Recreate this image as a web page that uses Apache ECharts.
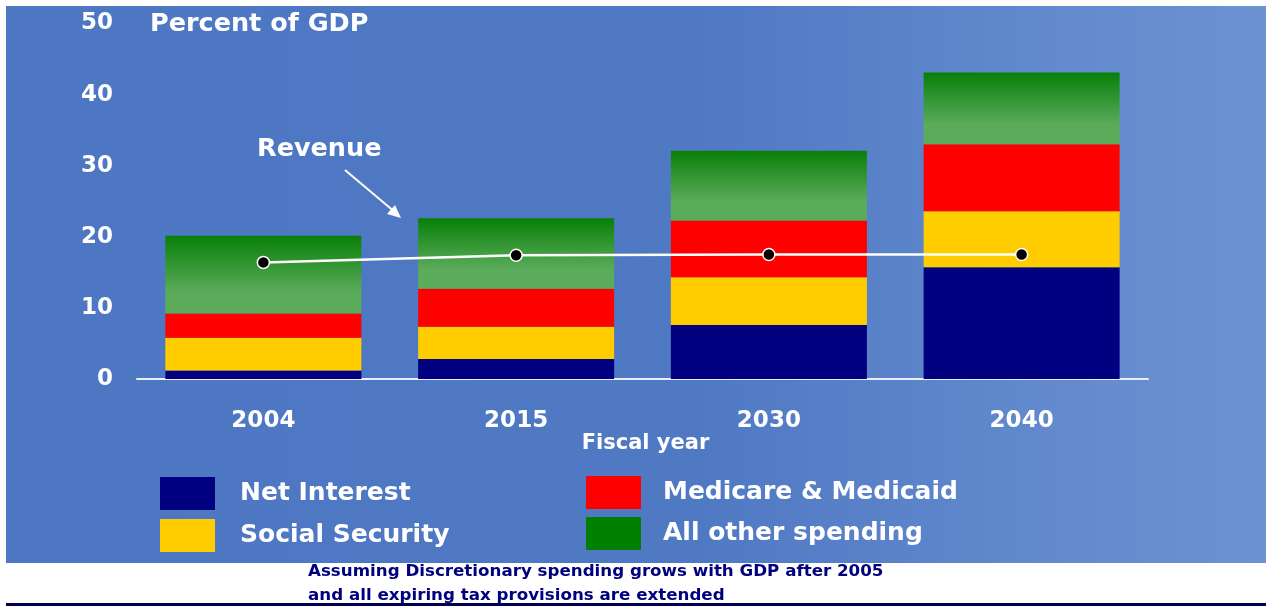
<!DOCTYPE html>
<html>
<head>
<meta charset="utf-8">
<script src="https://cdn.jsdelivr.net/npm/echarts@6/dist/echarts.min.js"></script>
<style>
  html, body { margin: 0; padding: 0; background: #ffffff; }
  #chart { width: 1266px; height: 606px; }
</style>
</head>
<body>
<div id="chart"></div>
<script>
// ---- data ----
const categories = ['2004', '2015', '2030', '2040'];
const yTicks = [0, 10, 20, 30, 40, 50];
const netInterest = [1.2, 2.8, 7.6, 15.7];
const socialSecurity = [4.6, 4.55, 6.7, 7.9];
const medicare = [3.4, 5.35, 8.0, 9.4];
const allOther = [10.95, 9.9, 9.8, 10.1];
const revenue = [16.4, 17.4, 17.5, 17.5];
const seriesNames = ['Net Interest', 'Social Security', 'Medicare & Medicaid', 'All other spending'];

const FONT = '"DejaVu Sans", Verdana, sans-serif';
const chart = echarts.init(document.getElementById('chart'), null, { renderer: 'canvas' });

const greenGrad = new echarts.graphic.LinearGradient(0, 0, 0, 1, [
  { offset: 0, color: '#087f08' },
  { offset: 0.72, color: '#5aab5a' },
  { offset: 1, color: '#5aab5a' }
]);

const legendText = { color: '#ffffff', fontFamily: FONT, fontWeight: 'bold', fontSize: 25, lineHeight: 33 };

const option = {
  backgroundColor: '#ffffff',
  animation: false,
  grid: { left: 137, right: 118, top: 23.5, bottom: 227, containLabel: false },
  xAxis: {
    type: 'category',
    data: categories,
    name: 'Fiscal year',
    nameLocation: 'middle',
    nameGap: 54,
    nameMoveOverlap: false,
    nameTextStyle: { color: '#ffffff', fontFamily: FONT, fontWeight: 'bold', fontSize: 21, padding: [0, 0, 0, 6] },
    axisLine: { show: true, lineStyle: { color: '#e8eefa', width: 2 } },
    axisTick: { show: false },
    axisLabel: { color: '#ffffff', fontFamily: FONT, fontWeight: 'bold', fontSize: 23, margin: 31 },
    splitLine: { show: false }
  },
  yAxis: {
    type: 'value',
    min: yTicks[0],
    max: yTicks[yTicks.length - 1],
    interval: 10,
    axisLine: { show: false },
    axisTick: { show: false },
    splitLine: { show: false },
    axisLabel: { color: '#ffffff', fontFamily: FONT, fontWeight: 'bold', fontSize: 23, margin: 24 }
  },
  legend: [
    {
      left: 160, top: 477, orient: 'vertical', itemWidth: 55, itemHeight: 33, itemGap: 9, padding: 0,
      icon: 'rect',
      data: [
        { name: seriesNames[0], itemStyle: { color: '#000080' } },
        { name: seriesNames[1], itemStyle: { color: '#ffcc00' } }
      ],
      textStyle: Object.assign({ padding: [0, 0, 0, 20] }, legendText),
      selectedMode: false
    },
    {
      left: 586, top: 476, orient: 'vertical', itemWidth: 55, itemHeight: 33, itemGap: 8, padding: 0,
      icon: 'rect',
      data: [
        { name: seriesNames[2], itemStyle: { color: '#ff0000' } },
        { name: seriesNames[3], itemStyle: { color: '#008000' } }
      ],
      textStyle: Object.assign({ padding: [0, 0, 0, 17] }, legendText),
      selectedMode: false
    }
  ],
  graphic: [
    { type: 'rect', z: -100, silent: true, shape: { x: 6, y: 6, width: 1260, height: 557 },
      style: { fill: new echarts.graphic.LinearGradient(0, 0, 1, 0, [
        { offset: 0, color: '#4e77c3' },
        { offset: 0.55, color: '#5079c4' },
        { offset: 0.8, color: '#6088cc' },
        { offset: 1, color: '#6d92d2' }
      ]) } },
    { type: 'rect', z: -100, silent: true, shape: { x: 6, y: 603, width: 1260, height: 3 },
      style: { fill: '#00004f' } },
    { type: 'text', z: 100, left: 150, top: 11,
      style: { text: 'Percent of GDP', fill: '#ffffff', font: 'bold 25.5px ' + FONT } },
    { type: 'text', z: 100, left: 257, top: 136,
      style: { text: 'Revenue', fill: '#ffffff', font: 'bold 25.5px ' + FONT } },
    { type: 'line', z: 100, shape: { x1: 345, y1: 170, x2: 396, y2: 213 },
      style: { stroke: '#ffffff', lineWidth: 2 } },
    { type: 'polygon', z: 100, shape: { points: [[401, 218], [387, 214], [395, 205]] },
      style: { fill: '#ffffff' } },
    { type: 'text', z: 100, left: 308, top: 560,
      style: { text: 'Assuming Discretionary spending grows with GDP after 2005\nand all expiring tax provisions are extended',
        fill: '#00007f', font: 'bold 16.7px ' + FONT, lineHeight: 24 } }
  ],
  series: [
    { name: seriesNames[0], type: 'bar', stack: 'total', barWidth: 196, data: netInterest, itemStyle: { color: '#000080' } },
    { name: seriesNames[1], type: 'bar', stack: 'total', barWidth: 196, data: socialSecurity, itemStyle: { color: '#ffcc00' } },
    { name: seriesNames[2], type: 'bar', stack: 'total', barWidth: 196, data: medicare, itemStyle: { color: '#ff0000' } },
    { name: seriesNames[3], type: 'bar', stack: 'total', barWidth: 196, data: allOther, itemStyle: { color: greenGrad } },
    { name: 'Revenue', type: 'line', data: revenue, z: 10,
      lineStyle: { color: '#ffffff', width: 2.5 },
      symbol: 'circle', symbolSize: 12,
      itemStyle: { color: '#000000', borderColor: '#ffffff', borderWidth: 1.5 } }
  ]
};
chart.setOption(option);
</script>
</body>
</html>
